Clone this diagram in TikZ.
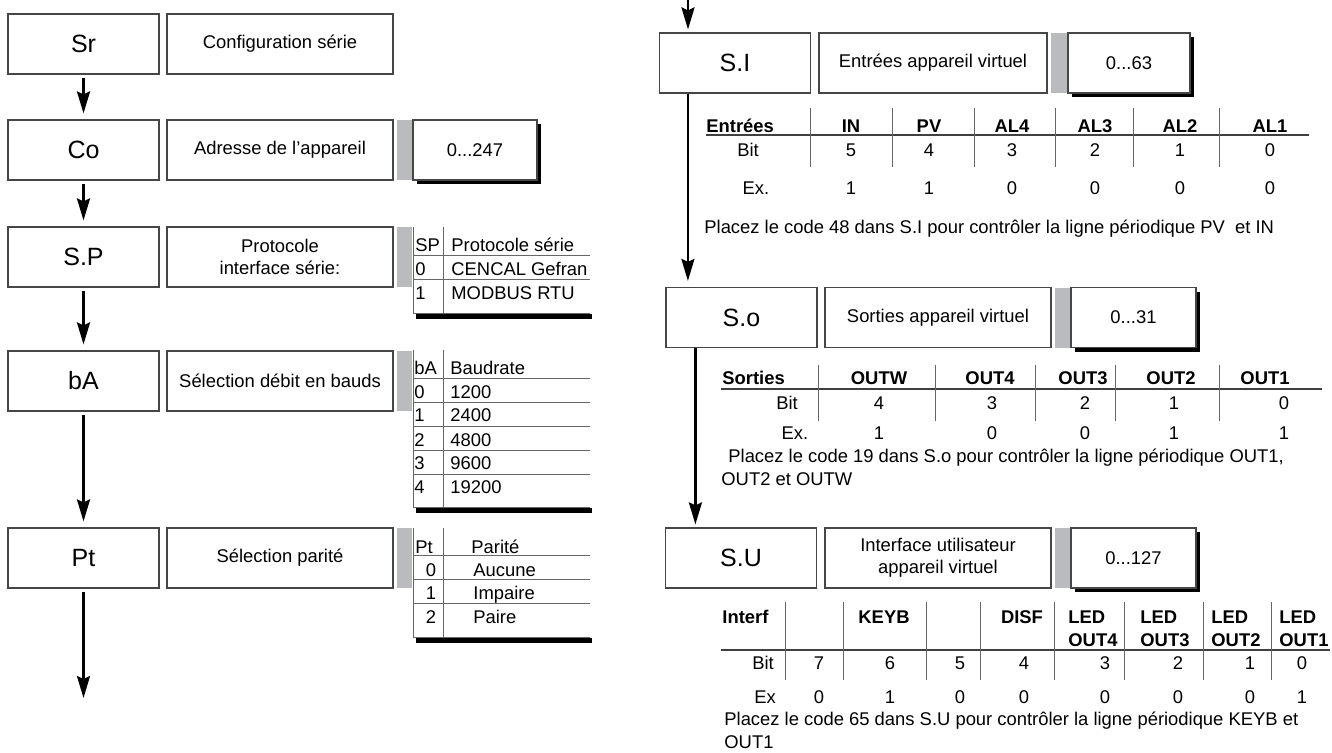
\documentclass[tikz,border=0pt]{standalone}
\usepackage{fontspec}
\setmainfont{Liberation Sans}
\usetikzlibrary{arrows.meta,shadows}
\definecolor{bargray}{RGB}{186,187,191}
\definecolor{boxline}{RGB}{70,70,70}

\begin{document}
\begin{tikzpicture}[
  x=0.5pt, y=-0.5pt,
  lbl/.style={draw=boxline,line width=0.6pt,minimum width=75.5pt,minimum height=30pt,inner sep=0pt,font=\fontsize{12.5}{14}\selectfont},
  desc/.style={draw=boxline,line width=0.6pt,minimum width=#1,minimum height=30pt,inner sep=0pt,align=center,font=\fontsize{9.2}{11}\selectfont},
  desc/.default=113pt,
  gbar/.style={fill=bargray,minimum width=#1,minimum height=30pt,inner sep=0pt},
  gbar/.default=7.5pt,
  valbox/.style={draw=boxline,fill=white,line width=0.6pt,minimum width=#1,minimum height=30pt,inner sep=0pt,
    font=\fontsize{9.2}{11}\selectfont,drop shadow={shadow xshift=2pt,shadow yshift=-2pt,fill=black,opacity=1}},
  valbox/.default=62pt,
  flow/.style={-{Stealth[length=11pt,width=6.5pt,inset=1.5pt]},line width=1.3pt,shorten >=3pt,shorten <=1.5pt},
  cell/.style={inner sep=0pt,font=\fontsize{9.2}{11}\selectfont,text height=6.6pt,text depth=0pt},
  tleft/.style={cell,anchor=west},
  thead/.style={cell,font=\fontsize{9.2}{11}\selectfont\bfseries},
  theadl/.style={tleft,font=\fontsize{9.2}{11}\selectfont\bfseries},
  sep/.style={draw=black!60,line width=0.5pt},
  rule/.style={draw=black!75,line width=0.8pt},
  tshadow/.style={line width=2.5pt,draw=black}
]
  \useasboundingbox (0,0) rectangle (1332,752);

  % left column
  \node[lbl] (Sr) at (83.5,44) {Sr};
  \node[desc] (Sr-d) at (280,44) {Configuration série};

  \node[lbl] (Co) at (83.5,150) {Co};
  \node[desc] (Co-d) at (280,150) {Adresse de l’appareil};
  \node[gbar] (Co-g) at (404.5,150) {};
  \node[valbox] (Co-v) at (475,150) {0...247};

  \node[lbl] (SP) at (83.5,257) {S.P};
  \node[desc] (SP-d) at (280,257) {Protocole\\interface série:};
  \node[gbar] (SP-g) at (404.5,257) {};

  \node[lbl] (bA) at (83.5,381) {bA};
  \node[desc] (bA-d) at (280,381) {Sélection débit en bauds};
  \node[gbar] (bA-g) at (404.5,381) {};

  \node[lbl] (Pt) at (83.5,558) {Pt};
  \node[desc] (Pt-d) at (280,558) {Sélection parité};
  \node[gbar] (Pt-g) at (404.5,558) {};

  \coordinate (Pt-end) at (83.5,698);
  \draw[flow] (Sr) -- (Co);
  \draw[flow] (Co) -- (SP);
  \draw[flow] (SP) -- (bA);
  \draw[flow] (bA) -- (Pt);
  \draw[flow,shorten >=0pt] (Pt) -- (Pt-end);

  % table SP
  \draw[tshadow] (416,316) -- (592,316);
  \draw[sep] (413,227) -- (413,313) -- (590,313);
  \draw[sep] (443,227) -- (443,313);
  \foreach \y in {255,279} \draw[sep] (413,\y) -- (590,\y);
  \foreach \ca/\cb/\y [count=\k] in {SP/Protocole série/245,0/CENCAL Gefran/269,1/MODBUS RTU/293} {
    \node[tleft] (sp-a\k) at (415,\y) {\ca};
    \node[tleft] (sp-b\k) at (451,\y) {\cb};
  }

  % table bA
  \draw[tshadow] (416,510) -- (592,510);
  \draw[sep] (413,350) -- (413,507) -- (590,507);
  \draw[sep] (443,350) -- (443,507);
  \foreach \y in {378,402,426,450,474} \draw[sep] (413,\y) -- (590,\y);
  \foreach \ca/\cb/\y [count=\k] in {bA/Baudrate/368,0/1200/392,1/2400/415,2/4800/440,3/9600/463,4/19200/487} {
    \node[tleft] (ba-a\k) at (414,\y) {\ca};
    \node[tleft] (ba-b\k) at (450,\y) {\cb};
  }

  % table Pt
  \draw[tshadow] (416,640) -- (592,640);
  \draw[sep] (413,528) -- (413,637) -- (590,637);
  \draw[sep] (443,528) -- (443,637);
  \foreach \y in {555,579,603} \draw[sep] (413,\y) -- (590,\y);
  \node[tleft] (pt-a0) at (415,547) {Pt};
  \node[tleft] (pt-b0) at (471,547) {Parité};
  \foreach \ca/\cb/\y [count=\k] in {0/Aucune/570,1/Impaire/593,2/Paire/617} {
    \node[cell] (pt-a\k) at (431,\y) {\ca};
    \node[tleft] (pt-b\k) at (473,\y) {\cb};
  }

  % right column
  \coordinate (entry) at (688,0);
  \node[lbl] (SI) at (735,63) {S.I};
  \node[desc=114pt] (SI-d) at (933,63) {Entrées appareil virtuel};
  \node[gbar=8.5pt] (SI-g) at (1059.5,63) {};
  \node[valbox=61pt] (SI-v) at (1129,63) {0...63};

  \node[lbl] (So) at (741.5,317.5) {S.o};
  \node[desc] (So-d) at (938,317.5) {Sorties appareil virtuel};
  \node[gbar=8pt] (So-g) at (1063,317.5) {};
  \node[valbox=62.5pt] (So-v) at (1133.5,317.5) {0...31};

  \node[lbl] (SU) at (741,558) {S.U};
  \node[desc] (SU-d) at (938,558) {Interface utilisateur\\appareil virtuel};
  \node[gbar=8pt] (SU-g) at (1063,558) {};
  \node[valbox=62.5pt] (SU-v) at (1133.5,558) {0...127};

  \draw[flow,shorten >=1.5pt,shorten <=0pt] (entry) -- (entry |- SI.north);
  \draw[flow,shorten <=0pt] ([xshift=14.5pt]SI.south west) -- ([xshift=14.5pt]SI.south west |- So.north);
  \draw[flow,shorten >=1.5pt,shorten <=0pt] ([xshift=15pt]So.south west) -- ([xshift=15pt]So.south west |- SU.north);

  % table S.I
  \node[theadl] (si-t) at (706,126) {Entrées};
  \node[cell] (si-bit) at (748,150) {Bit};
  \node[cell] (si-ex) at (756,188) {Ex.};
  \draw[rule] (706,135) -- (1309,135);
  \foreach \x in {810,892,974,1055,1133,1219} \draw[sep] (\x,108) -- (\x,167);
  \foreach \nm/\x/\vb/\ve [count=\k] in {IN/851/5/1,PV/929/4/1,AL4/1012/3/0,AL3/1095/2/0,AL2/1180/1/0,AL1/1270/0/0} {
    \node[thead] (si-h\k) at (\x,126) {\nm};
    \node[cell] (si-b\k) at (\x,150) {\vb};
    \node[cell] (si-e\k) at (\x,188) {\ve};
  }
  \node[tleft] (si-n) at (704,227) {Placez le code 48 dans S.I pour contrôler la ligne périodique PV~ et IN};

  % table S.o
  \node[theadl] (so-t) at (722,378) {Sorties};
  \node[cell] (so-bit) at (787,403) {Bit};
  \node[cell] (so-ex) at (795,433) {Ex.};
  \draw[rule] (721,389) -- (1322,389);
  \foreach \x in {818,935,1035,1115,1219} \draw[sep] (\x,365) -- (\x,421);
  \foreach \nm/\x/\xv/\vb/\ve [count=\k] in {OUTW/879/879/4/1,OUT4/990/992/3/0,OUT3/1083/1085/2/0,OUT2/1171/1174/1/1,OUT1/1265/1284/0/1} {
    \node[thead] (so-h\k) at (\x,378) {\nm};
    \node[cell] (so-b\k) at (\xv,403) {\vb};
    \node[cell] (so-e\k) at (\xv,433) {\ve};
  }
  \node[tleft] (so-n1) at (728,456) {Placez le code 19 dans S.o pour contrôler la ligne périodique OUT1,};
  \node[tleft] (so-n2) at (721,479) {OUT2 et OUTW};

  % table S.U
  \node[theadl] (su-t) at (722,617) {Interf};
  \node[thead] (su-k) at (884,617) {KEYB};
  \node[thead] (su-d) at (1022,617) {DISF};
  \foreach \x/\nn [count=\k] in {1068/4,1140/3,1211/2,1279/1} {
    \node[theadl] (su-l\k) at (\x,617) {LED};
    \node[theadl] (su-o\k) at (\x,640) {OUT\nn};
  }
  \draw[rule] (721,650) -- (1330,650);
  \foreach \x in {785,843,926,980,1054,1124,1203,1271} \draw[sep] (\x,602) -- (\x,680);
  \node[cell] (su-bit) at (763,663) {Bit};
  \node[cell] (su-ex) at (765,697) {Ex};
  \foreach \x/\vb/\ve [count=\k] in {819/7/0,890/6/1,960/5/0,1024/4/0,1105/3/0,1178/2/0,1250/1/0,1302/0/1} {
    \node[cell] (su-b\k) at (\x,663) {\vb};
    \node[cell] (su-e\k) at (\x,697) {\ve};
  }
  \node[tleft] (su-n1) at (724,719) {Placez le code 65 dans S.U pour contrôler la ligne périodique KEYB et};
  \node[tleft] (su-n2) at (724,742) {OUT1};
\end{tikzpicture}
\end{document}
